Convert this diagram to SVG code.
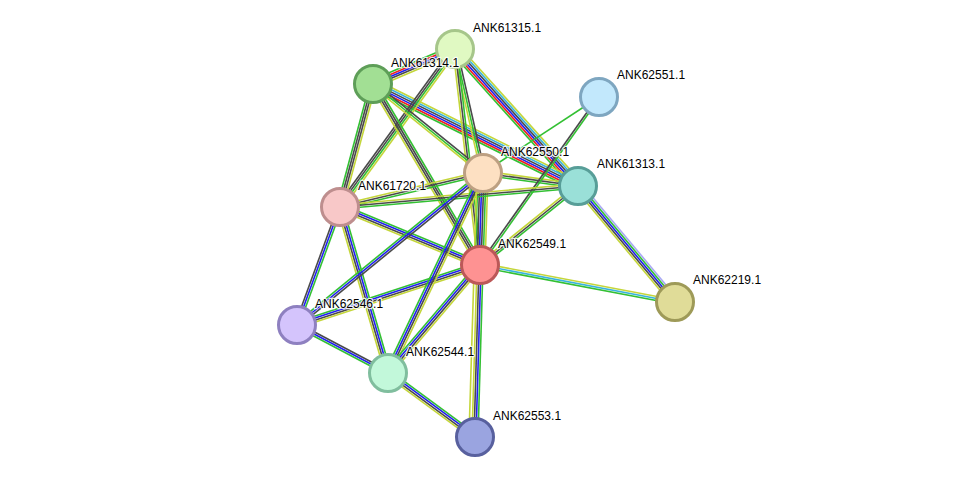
<svg xmlns="http://www.w3.org/2000/svg" width="976" height="483" viewBox="0 0 976 483">
<style>
line{stroke-width:1.6;fill:none}
.g{stroke:#33c033}
.y{stroke:#c4d63a}
.k{stroke:#4a4a4a}
.b{stroke:#2020f0}
.r{stroke:#f02020}
.c{stroke:#38b4dc}
.p{stroke:#a8a8f4}
.n{stroke-width:3}
text{font-family:"Liberation Sans",Arial,sans-serif;font-size:12px;fill:#000;stroke:#fff;stroke-width:2.5;stroke-opacity:0.85;paint-order:stroke;stroke-linejoin:round}
</style>
<rect width="976" height="483" fill="#fff"/>
<g id="edges">
<g transform="translate(373 84) rotate(-23.11)"><line class="g" x2="89.2" y1="-4" y2="-4"/><line class="r" x2="89.2" y1="-2" y2="-2"/><line class="b" x2="89.2" y1="0" y2="0"/><line class="k" x2="89.2" y1="2" y2="2"/><line class="y" x2="89.2" y1="4" y2="4"/></g>
<g transform="translate(455 49) rotate(48.08)"><line class="y" x2="184.1" y1="-5" y2="-5"/><line class="c" x2="184.1" y1="-3" y2="-3"/><line class="k" x2="184.1" y1="-1" y2="-1"/><line class="b" x2="184.1" y1="1" y2="1"/><line class="r" x2="184.1" y1="3" y2="3"/><line class="g" x2="184.1" y1="5" y2="5"/></g>
<g transform="translate(373 84) rotate(26.45)"><line class="y" x2="229" y1="-5" y2="-5"/><line class="c" x2="229" y1="-3" y2="-3"/><line class="k" x2="229" y1="-1" y2="-1"/><line class="b" x2="229" y1="1" y2="1"/><line class="r" x2="229" y1="3" y2="3"/><line class="g" x2="229" y1="5" y2="5"/></g>
<g transform="translate(455 49) rotate(77.28)"><line class="k" x2="127.1" y1="-2" y2="-2"/><line class="g" x2="127.1" y1="0" y2="0"/><line class="y" x2="127.1" y1="2" y2="2"/></g>
<g transform="translate(455 49) rotate(83.40)"><line class="g" x2="217.4" y1="-2" y2="-2"/><line class="k" x2="217.4" y1="0" y2="0"/><line class="y" x2="217.4" y1="2" y2="2"/></g>
<g transform="translate(455 49) rotate(126.05)"><line class="y" x2="195.4" y1="-3" y2="-3"/><line class="g" x2="195.4" y1="-1" y2="-1"/><line class="k" x2="195.4" y1="1" y2="1"/><line class="k" x2="195.4" y1="3" y2="3"/></g>
<g transform="translate(373 84) rotate(105.02)"><line class="y" x2="127.3" y1="-3" y2="-3"/><line class="k" x2="127.3" y1="-1" y2="-1"/><line class="k" x2="127.3" y1="1" y2="1"/><line class="g" x2="127.3" y1="3" y2="3"/></g>
<g transform="translate(373 84) rotate(38.98)"><line class="k" x2="141.5" y1="-2" y2="-2"/><line class="g" x2="141.5" y1="0" y2="0"/><line class="y" x2="141.5" y1="2" y2="2"/></g>
<g transform="translate(373 84) rotate(59.41)"><line class="g" x2="210.3" y1="-3" y2="-3"/><line class="k" x2="210.3" y1="-1" y2="-1"/><line class="k" x2="210.3" y1="1" y2="1"/><line class="y" x2="210.3" y1="3" y2="3"/></g>
<g transform="translate(483 173) rotate(7.79)"><line class="y" x2="95.9" y1="-2" y2="-2"/><line class="k" x2="95.9" y1="0" y2="0"/><line class="g" x2="95.9" y1="2" y2="2"/></g>
<g transform="translate(599 97) rotate(125.31)"><line class="g" x2="205.9" y1="-1" y2="-1"/><line class="k" x2="205.9" y1="1" y2="1"/></g>
<g transform="translate(599 97) rotate(146.77)"><line class="g" x2="138.7" y1="0" y2="0"/></g>
<g transform="translate(483 173) rotate(91.87)"><line class="y" x2="92.1" y1="-5" y2="-5"/><line class="g" x2="92.1" y1="-3" y2="-3"/><line class="k" x2="92.1" y1="-1" y2="-1"/><line class="b" x2="92.1" y1="1" y2="1"/><line class="k" x2="92.1" y1="3" y2="3"/><line class="g" x2="92.1" y1="5" y2="5"/></g>
<g transform="translate(578 186) rotate(141.12)"><line class="g" x2="125.9" y1="-2" y2="-2"/><line class="k" x2="125.9" y1="0" y2="0"/><line class="y" x2="125.9" y1="2" y2="2"/></g>
<g transform="translate(578 186) rotate(50.10)"><line class="p" x2="151.2" y1="-4" y2="-4"/><line class="g" x2="151.2" y1="-2" y2="-2"/><line class="b" x2="151.2" y1="0" y2="0"/><line class="k" x2="151.2" y1="2" y2="2"/><line class="y" x2="151.2" y1="4" y2="4"/></g>
<g transform="translate(480 265) rotate(10.74)"><line class="y" x2="198.5" y1="-2" y2="-2"/><line class="c" x2="198.5" y1="0" y2="0"/><line class="g" x2="198.5" y1="2" y2="2"/></g>
<g transform="translate(340 207) rotate(22.50)"><line class="g" x2="151.5" y1="-3" y2="-3"/><line class="b" x2="151.5" y1="-1" y2="-1"/><line class="k" x2="151.5" y1="1" y2="1"/><line class="y" x2="151.5" y1="3" y2="3"/></g>
<g transform="translate(340 207) rotate(-13.37)"><line class="y" x2="147" y1="-2" y2="-2"/><line class="k" x2="147" y1="0" y2="0"/><line class="g" x2="147" y1="2" y2="2"/></g>
<g transform="translate(340 207) rotate(-5.04)"><line class="y" x2="238.9" y1="-2" y2="-2"/><line class="k" x2="238.9" y1="0" y2="0"/><line class="g" x2="238.9" y1="2" y2="2"/></g>
<g transform="translate(340 207) rotate(110.02)"><line class="g" x2="125.6" y1="-2" y2="-2"/><line class="b" x2="125.6" y1="0" y2="0"/><line class="k" x2="125.6" y1="2" y2="2"/></g>
<g transform="translate(340 207) rotate(73.87)"><line class="g" x2="172.8" y1="-3" y2="-3"/><line class="b" x2="172.8" y1="-1" y2="-1"/><line class="k" x2="172.8" y1="1" y2="1"/><line class="y" x2="172.8" y1="3" y2="3"/></g>
<g transform="translate(297 325) rotate(-39.26)"><line class="g" x2="240.2" y1="-2" y2="-2"/><line class="b" x2="240.2" y1="0" y2="0"/><line class="k" x2="240.2" y1="2" y2="2"/></g>
<g transform="translate(297 325) rotate(-18.15)"><line class="g" x2="192.6" y1="-3" y2="-3"/><line class="b" x2="192.6" y1="-1" y2="-1"/><line class="k" x2="192.6" y1="1" y2="1"/><line class="y" x2="192.6" y1="3" y2="3"/></g>
<g transform="translate(297 325) rotate(27.81)"><line class="k" x2="102.9" y1="-2" y2="-2"/><line class="b" x2="102.9" y1="0" y2="0"/><line class="g" x2="102.9" y1="2" y2="2"/></g>
<g transform="translate(388 373) rotate(-64.59)"><line class="g" x2="221.4" y1="-3" y2="-3"/><line class="b" x2="221.4" y1="-1" y2="-1"/><line class="k" x2="221.4" y1="1" y2="1"/><line class="y" x2="221.4" y1="3" y2="3"/></g>
<g transform="translate(388 373) rotate(-49.57)"><line class="g" x2="141.9" y1="-3" y2="-3"/><line class="b" x2="141.9" y1="-1" y2="-1"/><line class="k" x2="141.9" y1="1" y2="1"/><line class="y" x2="141.9" y1="3" y2="3"/></g>
<g transform="translate(388 373) rotate(36.34)"><line class="g" x2="108" y1="-3" y2="-3"/><line class="b" x2="108" y1="-1" y2="-1"/><line class="k" x2="108" y1="1" y2="1"/><line class="y" x2="108" y1="3" y2="3"/></g>
<g transform="translate(483 173) rotate(91.74)"><line class="y" x2="264.1" y1="6" y2="6"/></g>
<g transform="translate(480 265) rotate(91.67)"><line class="g" x2="172.1" y1="-3" y2="-3"/><line class="b" x2="172.1" y1="-1" y2="-1"/><line class="k" x2="172.1" y1="1" y2="1"/><line class="y" x2="172.1" y1="3" y2="3"/></g>
</g>
<g id="ANK61315.1"><circle class="n" cx="455" cy="49" r="18.5" fill="#e0f9c2" stroke="#a6c68a"/><text x="473" y="32">ANK61315.1</text></g>
<g id="ANK61314.1"><circle class="n" cx="373" cy="84" r="18.5" fill="#a2df94" stroke="#5e9e58"/><text x="391" y="67">ANK61314.1</text></g>
<g id="ANK62551.1"><circle class="n" cx="599" cy="97" r="18.5" fill="#c2e8fc" stroke="#7ea6c0"/><text x="617" y="79">ANK62551.1</text></g>
<g id="ANK62550.1"><circle class="n" cx="483" cy="173" r="18.5" fill="#fde0c2" stroke="#bda082"/><text x="501" y="156">ANK62550.1</text></g>
<g id="ANK61313.1"><circle class="n" cx="578" cy="186" r="18.5" fill="#9ae0d8" stroke="#589e98"/><text x="597" y="168">ANK61313.1</text></g>
<g id="ANK61720.1"><circle class="n" cx="340" cy="207" r="18.5" fill="#f8c8c8" stroke="#be8e8e"/><text x="358" y="190">ANK61720.1</text></g>
<g id="ANK62549.1"><circle class="n" cx="480" cy="265" r="18.5" fill="#fe9292" stroke="#bc5858"/><text x="498" y="248">ANK62549.1</text></g>
<g id="ANK62219.1"><circle class="n" cx="675" cy="302" r="18.5" fill="#e0dc98" stroke="#9e9a58"/><text x="693" y="284">ANK62219.1</text></g>
<g id="ANK62546.1"><circle class="n" cx="297" cy="325" r="18.5" fill="#d4c4fc" stroke="#8e80c0"/><text x="315" y="308">ANK62546.1</text></g>
<g id="ANK62544.1"><circle class="n" cx="388" cy="373" r="18.5" fill="#c2f8da" stroke="#80be9e"/><text x="406" y="356">ANK62544.1</text></g>
<g id="ANK62553.1"><circle class="n" cx="475" cy="437" r="18.5" fill="#9aa4e0" stroke="#58609e"/><text x="493" y="420">ANK62553.1</text></g>
</svg>
